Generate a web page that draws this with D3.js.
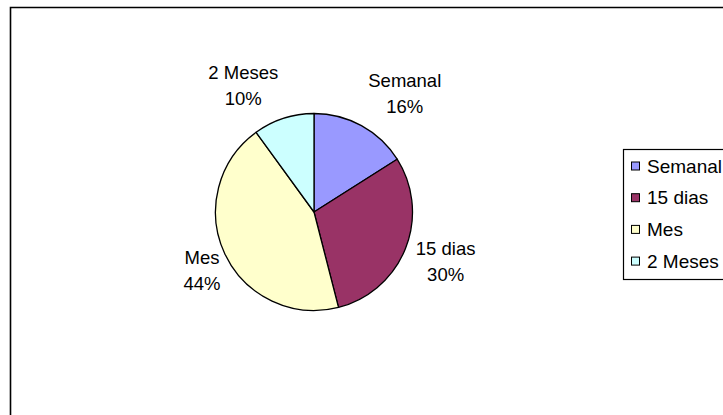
<!DOCTYPE html>
<html>
<head>
<meta charset="utf-8">
<script src="https://cdn.jsdelivr.net/npm/d3@7"></script>
<style>
  html, body { margin: 0; padding: 0; background: #fff; }
  svg { display: block; font-family: "Liberation Sans", Arial, sans-serif; }
</style>
</head>
<body>
<svg id="chart" width="723" height="415"></svg>
<script>
// ---- data ----
const categories = ["Semanal", "15 dias", "Mes", "2 Meses"];
const values = [16, 30, 44, 10];
const colors = ["#9999FF", "#993366", "#FFFFCC", "#CCFFFF"];
// label nudges (layout only) relative to the label ray point
const labelNudge = [[21, 8], [-3, -4], [19, -3], [-26, 11]];

const W = 723, H = 415;
const svg = d3.select("#chart");
const fontSize = 18.5;
const legendFontSize = 19;

// outer frame (extends beyond right/bottom edges)
svg.append("path")
  .attr("d", "M10.5,430 V7.5 H740")
  .attr("fill", "none")
  .attr("stroke", "#000")
  .attr("stroke-width", 1.6);

const cx = 314, cy = 212, R = 98.5;
const g = svg.append("g").attr("transform", `translate(${cx},${cy})`);

const total = d3.sum(values);
const pie = d3.pie().sort(null).value(d => d.value);
const arcs = pie(categories.map((c, i) => ({ cat: c, value: values[i], color: colors[i] })));
const arc = d3.arc().innerRadius(0).outerRadius(R);
const labelArc = d3.arc().innerRadius(R * 1.47).outerRadius(R * 1.47);

g.selectAll("path.slice")
  .data(arcs)
  .join("path")
  .attr("class", "slice")
  .attr("d", arc)
  .attr("fill", d => d.data.color)
  .attr("stroke", "#000")
  .attr("stroke-width", 1.3)
  .attr("stroke-linejoin", "round");

const fmt = d3.format(".0%");
const labels = g.selectAll("g.lab")
  .data(arcs)
  .join("g")
  .attr("class", "lab")
  .attr("transform", (d, i) => {
    const [x, y] = labelArc.centroid(d);
    return `translate(${x + labelNudge[i][0]},${y + labelNudge[i][1]})`;
  });
labels.append("text")
  .attr("text-anchor", "middle")
  .attr("y", -6.5)
  .attr("font-size", fontSize)
  .attr("fill", "#000")
  .text(d => d.data.cat);
labels.append("text")
  .attr("text-anchor", "middle")
  .attr("y", 19.5)
  .attr("font-size", fontSize)
  .attr("fill", "#000")
  .text(d => fmt(d.data.value / total));

// legend
const lx = 623.5, ly = 149.5, rowH = 31.7;
const legend = svg.append("g");
legend.append("rect")
  .attr("x", lx).attr("y", ly)
  .attr("width", 140).attr("height", 130)
  .attr("fill", "#fff")
  .attr("stroke", "#000")
  .attr("stroke-width", 1.2);
const rowY = d3.scaleLinear().domain([0, 1]).range([166, 166 + rowH]);
const items = legend.selectAll("g.item")
  .data(categories)
  .join("g")
  .attr("class", "item")
  .attr("transform", (d, i) => `translate(0,${rowY(i)})`);
items.append("rect")
  .attr("x", 631.5).attr("y", -4)
  .attr("width", 8).attr("height", 8)
  .attr("fill", (d, i) => colors[i])
  .attr("stroke", "#000")
  .attr("stroke-width", 1);
items.append("text")
  .attr("x", 647)
  .attr("y", 0)
  .attr("dy", "0.35em")
  .attr("font-size", legendFontSize)
  .attr("fill", "#000")
  .text(d => d);
</script>
</body>
</html>
